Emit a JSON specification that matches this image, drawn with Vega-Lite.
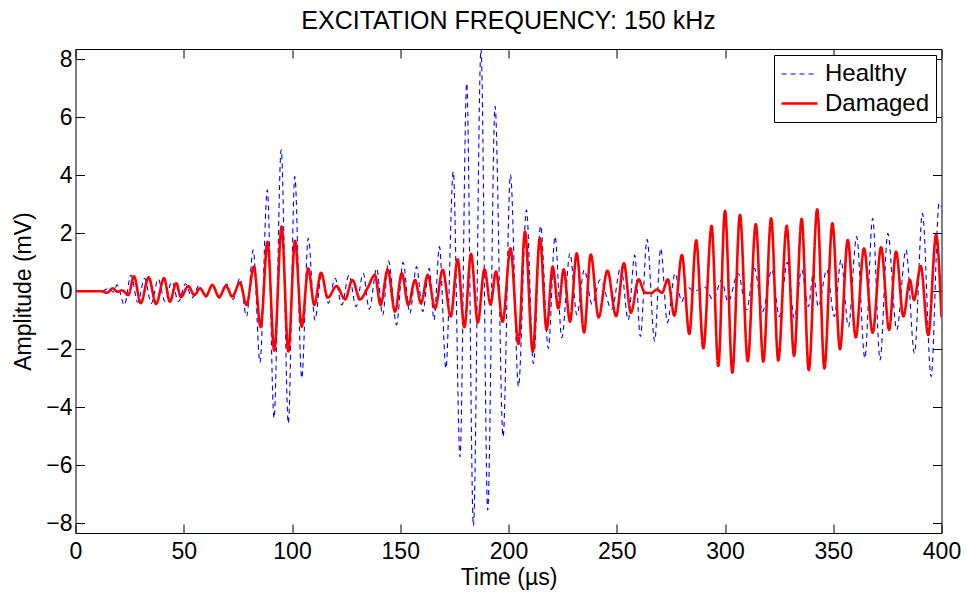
{
  "$schema": "https://vega.github.io/schema/vega-lite/v6.json",
  "width": 866,
  "height": 484,
  "autosize": "none",
  "padding": {"left": 75.5, "top": 49, "right": 24.5, "bottom": 59},
  "background": "white",
  "config": {
    "font": "Liberation Sans",
    "view": {"stroke": "black", "strokeWidth": 1},
    "axis": {
      "domain": false, "grid": false, "tickColor": "black", "tickSize": -9, "tickWidth": 1, "labelFlush": false,
      "labelColor": "black", "labelFont": "Liberation Sans", "labelFontSize": 23,
      "titleFont": "Liberation Sans", "titleFontSize": 23, "titleFontWeight": "normal", "titleColor": "black"
    }
  },
  "title": {"text": "EXCITATION FREQUENCY: 150 kHz", "fontSize": 25, "fontWeight": "normal", "color": "black", "font": "Liberation Sans", "anchor": "middle", "baseline": "alphabetic", "offset": 17, "dy": 23},
  "data": {"values": [
    {"t":0,"v":0,"s":"Healthy"},{"t":12,"v":0,"s":"Healthy"},{"t":15.5,"v":0.1,"s":"Healthy"},{"t":17.5,"v":-0.03,"s":"Healthy"},{"t":19.2,"v":0.22,"s":"Healthy"},{"t":22.6,"v":-0.47,"s":"Healthy"},{"t":25.6,"v":0.56,"s":"Healthy"},{"t":28.75,"v":-0.38,"s":"Healthy"},{"t":31.9,"v":0.45,"s":"Healthy"},{"t":35.0,"v":-0.42,"s":"Healthy"},{"t":38.2,"v":0.42,"s":"Healthy"},{"t":41.3,"v":-0.34,"s":"Healthy"},{"t":44.5,"v":0.32,"s":"Healthy"},{"t":47.6,"v":-0.36,"s":"Healthy"},{"t":50.8,"v":0.26,"s":"Healthy"},{"t":53.9,"v":-0.22,"s":"Healthy"},{"t":57.1,"v":0.2,"s":"Healthy"},{"t":60.2,"v":-0.2,"s":"Healthy"},{"t":63.4,"v":0.22,"s":"Healthy"},{"t":66.5,"v":-0.24,"s":"Healthy"},{"t":69.7,"v":0.25,"s":"Healthy"},{"t":72.8,"v":-0.28,"s":"Healthy"},{"t":75.9,"v":0.45,"s":"Healthy"},{"t":79.0,"v":-0.87,"s":"Healthy"},{"t":82.1,"v":1.43,"s":"Healthy"},{"t":85.2,"v":-2.46,"s":"Healthy"},{"t":88.6,"v":3.5,"s":"Healthy"},{"t":91.7,"v":-4.38,"s":"Healthy"},{"t":95.0,"v":4.88,"s":"Healthy"},{"t":98.3,"v":-4.56,"s":"Healthy"},{"t":101.3,"v":3.96,"s":"Healthy"},{"t":104.5,"v":-3.0,"s":"Healthy"},{"t":107.5,"v":1.83,"s":"Healthy"},{"t":110.6,"v":-0.99,"s":"Healthy"},{"t":113.7,"v":0.62,"s":"Healthy"},{"t":116.8,"v":-0.41,"s":"Healthy"},{"t":119.9,"v":0.45,"s":"Healthy"},{"t":123.0,"v":-0.47,"s":"Healthy"},{"t":126.3,"v":0.56,"s":"Healthy"},{"t":129.6,"v":-0.53,"s":"Healthy"},{"t":132.9,"v":0.62,"s":"Healthy"},{"t":135.7,"v":-0.62,"s":"Healthy"},{"t":139.1,"v":0.79,"s":"Healthy"},{"t":141.9,"v":-0.82,"s":"Healthy"},{"t":144.6,"v":1.04,"s":"Healthy"},{"t":148.3,"v":-1.16,"s":"Healthy"},{"t":151.3,"v":1.0,"s":"Healthy"},{"t":154.4,"v":-0.76,"s":"Healthy"},{"t":157.5,"v":0.85,"s":"Healthy"},{"t":160.4,"v":-0.7,"s":"Healthy"},{"t":163.4,"v":0.79,"s":"Healthy"},{"t":165.6,"v":-0.99,"s":"Healthy"},{"t":168.1,"v":1.54,"s":"Healthy"},{"t":171.1,"v":-2.66,"s":"Healthy"},{"t":174.5,"v":4.13,"s":"Healthy"},{"t":177.6,"v":-5.71,"s":"Healthy"},{"t":180.7,"v":7.18,"s":"Healthy"},{"t":183.8,"v":-8.1,"s":"Healthy"},{"t":187.3,"v":8.36,"s":"Healthy"},{"t":190.4,"v":-7.55,"s":"Healthy"},{"t":193.8,"v":6.38,"s":"Healthy"},{"t":197.5,"v":-5.02,"s":"Healthy"},{"t":200.9,"v":4.02,"s":"Healthy"},{"t":204.6,"v":-3.29,"s":"Healthy"},{"t":208.3,"v":2.81,"s":"Healthy"},{"t":211.5,"v":-2.49,"s":"Healthy"},{"t":214.8,"v":2.26,"s":"Healthy"},{"t":218.4,"v":-1.97,"s":"Healthy"},{"t":221.5,"v":1.89,"s":"Healthy"},{"t":224.6,"v":-1.6,"s":"Healthy"},{"t":228.4,"v":1.31,"s":"Healthy"},{"t":231.6,"v":-0.82,"s":"Healthy"},{"t":235.0,"v":0.74,"s":"Healthy"},{"t":238.6,"v":-0.45,"s":"Healthy"},{"t":242.3,"v":0.4,"s":"Healthy"},{"t":247.7,"v":-0.62,"s":"Healthy"},{"t":251.9,"v":0.85,"s":"Healthy"},{"t":255.3,"v":-0.99,"s":"Healthy"},{"t":258.3,"v":1.25,"s":"Healthy"},{"t":260.9,"v":-1.56,"s":"Healthy"},{"t":264.0,"v":1.79,"s":"Healthy"},{"t":267.5,"v":-1.72,"s":"Healthy"},{"t":270.3,"v":1.48,"s":"Healthy"},{"t":273.4,"v":-1.08,"s":"Healthy"},{"t":276.9,"v":0.62,"s":"Healthy"},{"t":280.0,"v":-0.36,"s":"Healthy"},{"t":282.4,"v":0.16,"s":"Healthy"},{"t":285.6,"v":0.0,"s":"Healthy"},{"t":290.5,"v":0.15,"s":"Healthy"},{"t":294.6,"v":-0.3,"s":"Healthy"},{"t":298.4,"v":0.39,"s":"Healthy"},{"t":301.4,"v":-0.36,"s":"Healthy"},{"t":306.1,"v":0.62,"s":"Healthy"},{"t":309.9,"v":-0.64,"s":"Healthy"},{"t":313.6,"v":0.79,"s":"Healthy"},{"t":317.4,"v":-0.7,"s":"Healthy"},{"t":321.6,"v":0.74,"s":"Healthy"},{"t":325.1,"v":-0.87,"s":"Healthy"},{"t":328.8,"v":1.0,"s":"Healthy"},{"t":332.0,"v":-0.93,"s":"Healthy"},{"t":335.4,"v":0.74,"s":"Healthy"},{"t":338.5,"v":-0.53,"s":"Healthy"},{"t":340.8,"v":0.62,"s":"Healthy"},{"t":343.1,"v":-0.53,"s":"Healthy"},{"t":347.0,"v":0.74,"s":"Healthy"},{"t":350.5,"v":-0.87,"s":"Healthy"},{"t":353.6,"v":1.08,"s":"Healthy"},{"t":357.0,"v":-1.22,"s":"Healthy"},{"t":360.8,"v":1.89,"s":"Healthy"},{"t":364.6,"v":-2.31,"s":"Healthy"},{"t":368.2,"v":2.52,"s":"Healthy"},{"t":371.6,"v":-2.37,"s":"Healthy"},{"t":375.2,"v":2.0,"s":"Healthy"},{"t":379.3,"v":-1.33,"s":"Healthy"},{"t":383.6,"v":1.43,"s":"Healthy"},{"t":387.5,"v":-2.14,"s":"Healthy"},{"t":391.2,"v":2.69,"s":"Healthy"},{"t":395.2,"v":-2.95,"s":"Healthy"},{"t":398.9,"v":3.04,"s":"Healthy"},{"t":400,"v":2.9,"s":"Healthy"},
    {"t":0,"v":0,"s":"Damaged"},{"t":12,"v":0,"s":"Damaged"},{"t":14.5,"v":-0.05,"s":"Damaged"},{"t":17.2,"v":0.1,"s":"Damaged"},{"t":19.5,"v":-0.02,"s":"Damaged"},{"t":21.5,"v":0.03,"s":"Damaged"},{"t":24.4,"v":-0.13,"s":"Damaged"},{"t":27.0,"v":0.52,"s":"Damaged"},{"t":30.1,"v":-0.41,"s":"Damaged"},{"t":33.8,"v":0.48,"s":"Damaged"},{"t":37.2,"v":-0.44,"s":"Damaged"},{"t":40.9,"v":0.45,"s":"Damaged"},{"t":43.6,"v":-0.36,"s":"Damaged"},{"t":46.5,"v":0.28,"s":"Damaged"},{"t":48.7,"v":-0.2,"s":"Damaged"},{"t":52.1,"v":0.18,"s":"Damaged"},{"t":54.9,"v":-0.13,"s":"Damaged"},{"t":57.5,"v":0.1,"s":"Damaged"},{"t":60.3,"v":-0.16,"s":"Damaged"},{"t":63.2,"v":0.22,"s":"Damaged"},{"t":66.3,"v":-0.2,"s":"Damaged"},{"t":69.5,"v":0.18,"s":"Damaged"},{"t":72.4,"v":-0.18,"s":"Damaged"},{"t":75.9,"v":0.3,"s":"Damaged"},{"t":79.0,"v":-0.47,"s":"Damaged"},{"t":82.4,"v":0.85,"s":"Damaged"},{"t":85.5,"v":-1.24,"s":"Damaged"},{"t":88.7,"v":1.71,"s":"Damaged"},{"t":91.8,"v":-2.05,"s":"Damaged"},{"t":95.2,"v":2.23,"s":"Damaged"},{"t":98.3,"v":-2.08,"s":"Damaged"},{"t":101.4,"v":1.74,"s":"Damaged"},{"t":104.5,"v":-1.22,"s":"Damaged"},{"t":107.5,"v":0.79,"s":"Damaged"},{"t":110.3,"v":-0.47,"s":"Damaged"},{"t":113.4,"v":0.64,"s":"Damaged"},{"t":116.5,"v":-0.22,"s":"Damaged"},{"t":120.6,"v":0.18,"s":"Damaged"},{"t":124.5,"v":-0.28,"s":"Damaged"},{"t":127.9,"v":0.39,"s":"Damaged"},{"t":131.4,"v":-0.28,"s":"Damaged"},{"t":134.8,"v":0.1,"s":"Damaged"},{"t":138.3,"v":0.56,"s":"Damaged"},{"t":140.9,"v":-0.47,"s":"Damaged"},{"t":144.2,"v":0.75,"s":"Damaged"},{"t":147.6,"v":-0.7,"s":"Damaged"},{"t":150.7,"v":0.62,"s":"Damaged"},{"t":153.7,"v":-0.47,"s":"Damaged"},{"t":156.8,"v":0.39,"s":"Damaged"},{"t":159.6,"v":-0.41,"s":"Damaged"},{"t":162.7,"v":0.56,"s":"Damaged"},{"t":166.1,"v":-0.59,"s":"Damaged"},{"t":169.6,"v":0.74,"s":"Damaged"},{"t":173.3,"v":-0.87,"s":"Damaged"},{"t":176.5,"v":1.1,"s":"Damaged"},{"t":179.6,"v":-1.24,"s":"Damaged"},{"t":182.7,"v":1.29,"s":"Damaged"},{"t":185.8,"v":-1.08,"s":"Damaged"},{"t":188.9,"v":0.76,"s":"Damaged"},{"t":191.7,"v":-0.45,"s":"Damaged"},{"t":194.2,"v":0.68,"s":"Damaged"},{"t":197.3,"v":-1.05,"s":"Damaged"},{"t":200.9,"v":1.48,"s":"Damaged"},{"t":204.6,"v":-1.82,"s":"Damaged"},{"t":207.6,"v":2.06,"s":"Damaged"},{"t":211.2,"v":-2.08,"s":"Damaged"},{"t":214.5,"v":1.83,"s":"Damaged"},{"t":217.6,"v":-1.33,"s":"Damaged"},{"t":220.4,"v":0.85,"s":"Damaged"},{"t":223.0,"v":-0.59,"s":"Damaged"},{"t":225.5,"v":0.76,"s":"Damaged"},{"t":228.4,"v":-1.05,"s":"Damaged"},{"t":231.5,"v":1.31,"s":"Damaged"},{"t":234.9,"v":-1.42,"s":"Damaged"},{"t":238.0,"v":1.27,"s":"Damaged"},{"t":241.6,"v":-0.9,"s":"Damaged"},{"t":245.7,"v":0.71,"s":"Damaged"},{"t":249.7,"v":-0.86,"s":"Damaged"},{"t":253.3,"v":0.97,"s":"Damaged"},{"t":256.5,"v":-0.74,"s":"Damaged"},{"t":260.1,"v":0.41,"s":"Damaged"},{"t":263.0,"v":-0.05,"s":"Damaged"},{"t":266.0,"v":-0.06,"s":"Damaged"},{"t":268.5,"v":0.06,"s":"Damaged"},{"t":270.9,"v":-0.05,"s":"Damaged"},{"t":273.6,"v":0.41,"s":"Damaged"},{"t":276.6,"v":-0.84,"s":"Damaged"},{"t":280.1,"v":1.25,"s":"Damaged"},{"t":283.5,"v":-1.47,"s":"Damaged"},{"t":286.7,"v":1.76,"s":"Damaged"},{"t":290.0,"v":-1.97,"s":"Damaged"},{"t":293.8,"v":2.26,"s":"Damaged"},{"t":296.9,"v":-2.58,"s":"Damaged"},{"t":300.0,"v":2.78,"s":"Damaged"},{"t":303.4,"v":-2.81,"s":"Damaged"},{"t":306.9,"v":2.64,"s":"Damaged"},{"t":310.5,"v":-2.41,"s":"Damaged"},{"t":314.2,"v":2.32,"s":"Damaged"},{"t":317.7,"v":-2.43,"s":"Damaged"},{"t":321.3,"v":2.52,"s":"Damaged"},{"t":324.6,"v":-2.39,"s":"Damaged"},{"t":328.5,"v":2.26,"s":"Damaged"},{"t":331.9,"v":-2.23,"s":"Damaged"},{"t":335.4,"v":2.5,"s":"Damaged"},{"t":338.7,"v":-2.72,"s":"Damaged"},{"t":342.6,"v":2.83,"s":"Damaged"},{"t":345.9,"v":-2.66,"s":"Damaged"},{"t":349.6,"v":2.35,"s":"Damaged"},{"t":353.1,"v":-2.0,"s":"Damaged"},{"t":356.7,"v":1.77,"s":"Damaged"},{"t":360.4,"v":-1.59,"s":"Damaged"},{"t":364.2,"v":1.48,"s":"Damaged"},{"t":368.2,"v":-1.43,"s":"Damaged"},{"t":372.1,"v":1.52,"s":"Damaged"},{"t":375.8,"v":-1.33,"s":"Damaged"},{"t":379.0,"v":1.37,"s":"Damaged"},{"t":382.4,"v":-0.87,"s":"Damaged"},{"t":385.4,"v":0.39,"s":"Damaged"},{"t":387.3,"v":-0.3,"s":"Damaged"},{"t":390.4,"v":0.87,"s":"Damaged"},{"t":393.9,"v":-1.51,"s":"Damaged"},{"t":397.5,"v":1.94,"s":"Damaged"},{"t":400,"v":-0.9,"s":"Damaged"}
  ]},
  "layer": [
    {
      "mark": {"type": "line", "interpolate": "monotone", "clip": true},
      "encoding": {
        "x": {"field": "t", "type": "quantitative", "scale": {"domain": [0, 400], "nice": false, "zero": false},
              "axis": {"orient": "bottom", "title": "Time (µs)", "values": [0, 50, 100, 150, 200, 250, 300, 350, 400], "format": "d", "labelPadding": 16, "labelFlush": false, "titleX": 433, "titleY": 51, "titleBaseline": "alphabetic"}},
        "y": {"field": "v", "type": "quantitative", "scale": {"domain": [-8.34, 8.36], "nice": false, "zero": false},
              "axis": {"orient": "left", "title": "Amplitude (mV)", "values": [-8, -6, -4, -2, 0, 2, 4, 6, 8], "format": "d", "labelPadding": 12.5, "labelFlush": false, "titleX": -52.5, "titleY": 242, "titleAngle": -90, "titleAlign": "center", "titleBaseline": "middle"}},
        "color": {"field": "s", "type": "nominal", "scale": {"domain": ["Healthy", "Damaged"], "range": ["#0000ff", "#ff0000"]},
                  "legend": {"title": null, "orient": "none", "legendX": 698.5, "legendY": 6, "symbolType": "M-1.5,0H1.5", "symbolSize": 576, "labelFontSize": 24, "labelFont": "Liberation Sans", "labelColor": "black", "strokeColor": "black", "fillColor": "white", "padding": 6, "rowPadding": 4, "labelOffset": 12, "symbolOffset": 6, "symbolOpacity": 1}},
        "strokeDash": {"field": "s", "type": "nominal", "scale": {"domain": ["Healthy", "Damaged"], "range": [[5, 4], [1, 0]]}},
        "strokeWidth": {"field": "s", "type": "nominal", "scale": {"domain": ["Healthy", "Damaged"], "range": [1.1, 2.6]}}
      }
    },
    {
      "mark": {"type": "line", "opacity": 0},
      "encoding": {
        "x": {"field": "t", "type": "quantitative", "axis": {"orient": "top", "labels": false, "title": null, "values": [0, 50, 100, 150, 200, 250, 300, 350, 400]}},
        "y": {"field": "v", "type": "quantitative", "axis": {"orient": "right", "labels": false, "title": null, "values": [-8, -6, -4, -2, 0, 2, 4, 6, 8]}}
      }
    }
  ],
  "resolve": {"axis": {"x": "independent", "y": "independent"}}
}
